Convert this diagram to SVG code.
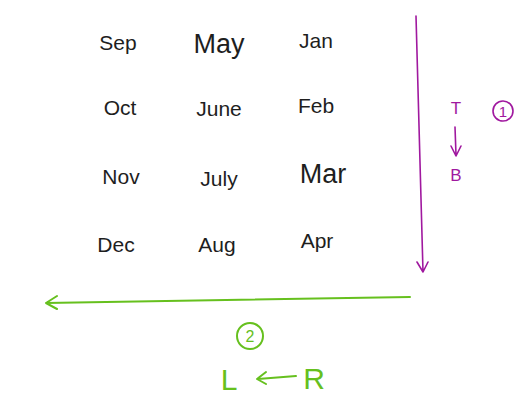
<svg xmlns="http://www.w3.org/2000/svg" width="532" height="412" viewBox="0 0 532 412">
<style>
.m{font-family:"Liberation Sans",Arial,sans-serif;font-size:21px;fill:#1e1e1e;text-anchor:middle}
.big{font-size:27px}
.p{font-family:"Liberation Sans",Arial,sans-serif;fill:#a0189f;text-anchor:middle}
.g{font-family:"Liberation Sans",Arial,sans-serif;fill:#66c01e;text-anchor:middle}
.pl{stroke:#a0189f;stroke-width:1.6;fill:none;stroke-linecap:round;stroke-linejoin:round}
.gl{stroke:#66c01e;stroke-width:2;fill:none;stroke-linecap:round;stroke-linejoin:round}
</style>
<rect width="532" height="412" fill="#ffffff"/>
<g id="months">
<text class="m" x="118" y="50">Sep</text>
<text class="m big" x="219" y="53">May</text>
<text class="m" x="316" y="48">Jan</text>
<text class="m" x="120" y="115">Oct</text>
<text class="m" x="219" y="116">June</text>
<text class="m" x="316" y="113">Feb</text>
<text class="m" x="121" y="184">Nov</text>
<text class="m" x="219" y="186">July</text>
<text class="m big" x="323" y="183">Mar</text>
<text class="m" x="116" y="252">Dec</text>
<text class="m" x="217" y="252">Aug</text>
<text class="m" x="317" y="248">Apr</text>
</g>
<g id="connectors">
<path class="pl" d="M416 16 L423 272 M417 262 L423 272 L428 262"/>
<path class="pl" d="M455 127 L456 155 M451 146 L456 156 L461 146"/>
<path class="gl" d="M410 297 L46 303 M57 296 L46 303 L57 309"/>
<path class="gl" d="M296 376 L258 379 M266 372 L257 379 L266 384"/>
</g>
<g id="label-tb">
<text class="p" x="456" y="114" font-size="17">T</text>
<text class="p" x="456" y="181" font-size="17">B</text>
<circle cx="503" cy="111" r="10" class="pl" stroke-width="2"/>
<text class="p" x="503" y="117" font-size="15">1</text>
</g>
<g id="label-lr">
<circle cx="250" cy="336" r="13" class="gl"/>
<text class="g" x="250" y="342" font-size="16">2</text>
<text class="g" x="229" y="390" font-size="30">L</text>
<text class="g" x="314" y="389" font-size="30">R</text>
</g>
</svg>
